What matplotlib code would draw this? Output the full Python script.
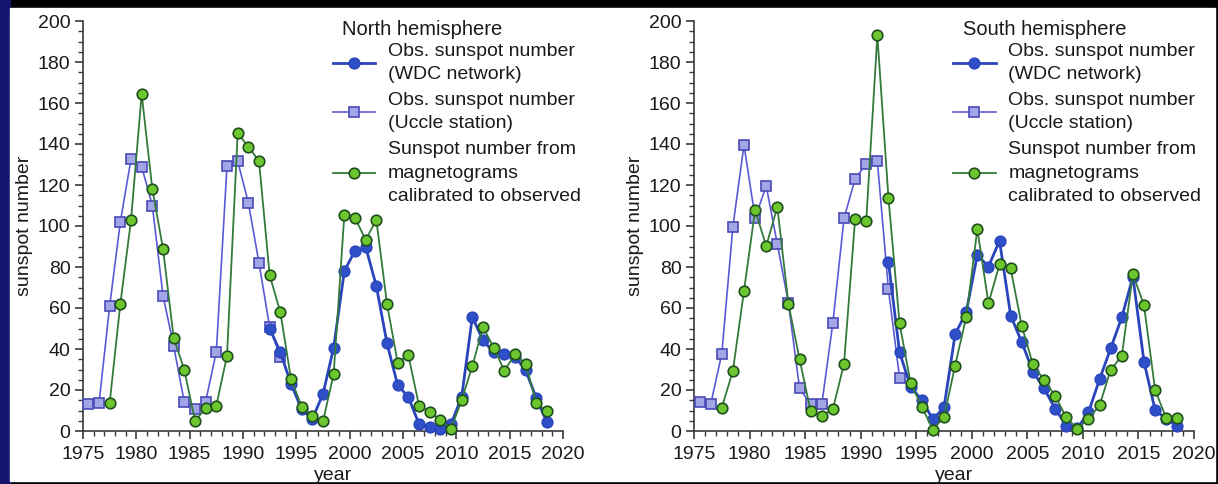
import numpy as np
import matplotlib
matplotlib.use("Agg")
import matplotlib.pyplot as plt
from matplotlib.patches import Rectangle
from matplotlib.ticker import MultipleLocator

plt.rcParams['font.family'] = ['Liberation Sans', 'DejaVu Sans']

# ---- data ----
years_uccle = np.arange(1975.5, 1994.0, 1.0)   # 1975.5 .. 1993.5
years_wdc = np.arange(1992.5, 2019.0, 1.0)     # 1992.5 .. 2018.5
years_mag = np.arange(1977.5, 2019.0, 1.0)     # 1977.5 .. 2018.5

north_uccle = [13, 13.5, 61, 102, 132.5, 129, 110, 66, 41.5, 14, 10.5, 14.3, 38.7,
               129.4, 131.7, 111.4, 82, 50.7, 36.3]
north_wdc = [50, 38.4, 23, 10.6, 6, 18, 40.7, 78, 88, 89.8, 70.7, 42.8, 22.4, 16.6,
             3.4, 2, 1.1, 3.4, 16.6, 55.6, 44.2, 38.4, 37.7, 36.3, 29.6, 16, 4.2]
north_mag = [13.7, 62, 102.8, 164.4, 118, 89, 45.4, 29.8, 5, 11, 12.4, 36.7, 145.2,
             138.7, 131.7, 76, 57.9, 25.5, 11.9, 7.2, 4.7, 27.8, 105.4, 104, 93.2, 103,
             62, 33.3, 37, 12.4, 9.4, 5.4, 1.1, 15, 31.7, 50.7, 40.7, 29.4, 37.4, 32.7,
             13.5, 9.6]

south_uccle = [14.3, 13, 37.6, 99.7, 139.5, 104, 119.5, 91.2, 62.3, 20.8, 13, 13, 52.8,
               103.7, 123, 130.2, 131.7, 69.1, 26]
south_wdc = [82.3, 38.4, 21.6, 15.1, 5.7, 11.5, 47.2, 57.9, 85.9, 80.2, 92.8, 56.3, 43.3,
             29, 20.8, 10.9, 2.6, 1.3, 9.1, 25.2, 40.3, 55.4, 75.3, 33.8, 10.2, 5.9, 2.6]
south_mag = [11.4, 29.3, 68.3, 107.8, 90.2, 109.3, 62, 35, 9.6, 7.3, 10.7, 32.7, 103.3,
             102.4, 193, 113.8, 52.5, 23.3, 11.9, 0.7, 6.7, 31.9, 55.6, 98.5, 62.3, 81.3,
             79.3, 51.2, 32.5, 24.9, 17.2, 6.7, 1.1, 6, 12.5, 29.8, 36.6, 76.6, 61.3, 20,
             6.3, 6.3]

labels = ["Obs. sunspot number\n(WDC network)",
          "Obs. sunspot number\n(Uccle station)",
          "Sunspot number from\nmagnetograms\ncalibrated to observed"]
titles = ["North hemisphere", "South hemisphere"]

# ---- figure ----
W, H = 1218, 484
fig = plt.figure(figsize=(W / 100, H / 100), dpi=100, facecolor='black')
fig.patches.append(Rectangle((0, 0), 10 / W, 1, transform=fig.transFigure,
                             color='#15156e', zorder=-10))
fig.patches.append(Rectangle((10 / W, 3 / H), (1215 - 10) / W, (476 - 3) / H,
                             transform=fig.transFigure, color='white', zorder=-9))

bottom_px, top_px = 431, 21
axL = fig.add_axes([83 / W, 1 - bottom_px / H, (563 - 83) / W, (bottom_px - top_px) / H])
axR = fig.add_axes([694 / W, 1 - bottom_px / H, (1194 - 694) / W, (bottom_px - top_px) / H])

spine_c = '#3a3a3a'
txt_c = '#1a1a1a'
fs = 14
panels = [(axL, north_uccle, north_wdc, north_mag, titles[0], 0.52, -0.105),
          (axR, south_uccle, south_wdc, south_mag, titles[1], 0.518, -0.1)]
for ax, uc, wd, mg, title, legx, ylx in panels:
    ax.set_facecolor('none')
    h_uc, = ax.plot(years_uccle, uc, '-s', color='#5a5ad6', lw=1.2,
                    markerfacecolor='#a3a6e6', markeredgecolor='#4a4ab8',
                    markeredgewidth=1.2, markersize=7.2, clip_on=False, zorder=3)
    h_wd, = ax.plot(years_wdc, wd, '-o', color='#2a45bb', lw=2.0,
                    markerfacecolor='#2e4fc8', markeredgecolor='#2a45bb',
                    markersize=7.8, clip_on=False, zorder=4)
    h_mg, = ax.plot(years_mag, mg, '-o', color='#347a3a', lw=1.3,
                    markerfacecolor='#6cc62e', markeredgecolor='#1f4f1f',
                    markeredgewidth=1.2, markersize=7.6, clip_on=False, zorder=5)

    ax.set_xlim(1975, 2020)
    ax.set_ylim(0, 200)
    ax.xaxis.set_major_locator(MultipleLocator(5))
    ax.xaxis.set_minor_locator(MultipleLocator(1))
    ax.yaxis.set_major_locator(MultipleLocator(20))
    ax.yaxis.set_minor_locator(MultipleLocator(5))
    for s in ['top', 'right']:
        ax.spines[s].set_visible(False)
    for s in ['left', 'bottom']:
        ax.spines[s].set_color(spine_c)
        ax.spines[s].set_linewidth(1.2)
    ax.tick_params(which='major', direction='out', length=6, width=1.2,
                   color=spine_c, labelsize=fs, labelcolor=txt_c)
    ax.tick_params(axis='x', which='major', pad=4.5)
    ax.tick_params(axis='y', which='major', pad=3)
    ax.tick_params(which='minor', direction='out', length=3.5, width=1.0,
                   color=spine_c)
    ax.set_xlabel('year', fontsize=fs, color=txt_c)
    ax.xaxis.set_label_coords(0.52, -0.088)
    ax.set_ylabel('sunspot number', fontsize=fs, color=txt_c)
    ax.yaxis.set_label_coords(ylx, 0.5)

    # hemisphere title (slightly indented relative to legend handles)
    ax.text(legx + 0.02, 0.98, title, transform=ax.transAxes, fontsize=14.5,
            color=txt_c, ha='left', va='center')

    leg = ax.legend([h_wd, h_uc, h_mg], labels, loc='upper left',
                    bbox_to_anchor=(legx, 0.947), frameon=False, fontsize=fs,
                    handlelength=2.2, handletextpad=0.65,
                    labelspacing=0.45, borderpad=0.0, borderaxespad=0.0)
    for t in leg.get_texts():
        t.set_color(txt_c)
        t.set_linespacing(1.5)

fig.savefig('out.png', dpi=100, facecolor=fig.get_facecolor())
